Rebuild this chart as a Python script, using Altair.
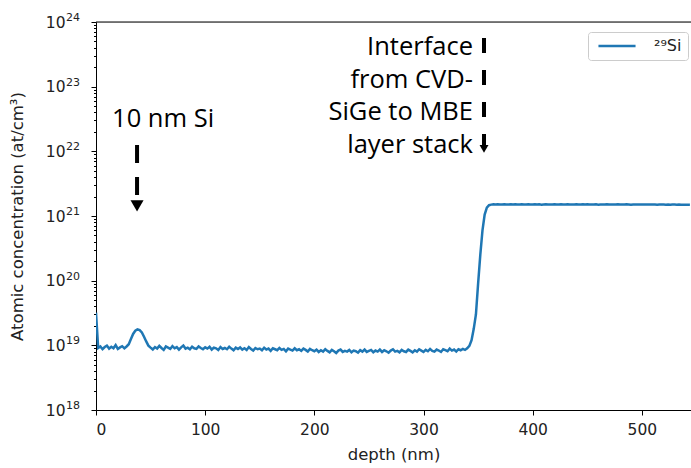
import altair as alt
import pandas as pd

# 29Si concentration in units of 1e18 at/cm^3, sampled every 2 nm from 0 nm
conc_1e18 = [
    32.0, 9.1, 9.6, 8.7, 9.4, 9.9, 8.9, 9.5, 9.0, 10.1, 8.8, 9.3, 9.7, 9.0, 9.6,
    10.4, 12.5, 15.0, 16.8, 17.6, 17.2, 15.8, 13.6, 11.5, 9.9, 9.2,
    8.6, 9.4, 8.9, 9.8, 9.1, 8.5, 9.6, 9.2, 8.8, 9.7, 9.0, 9.4, 8.6, 9.3, 9.9, 8.9,
    9.2, 8.7, 9.5, 9.0, 8.8, 9.6, 9.1, 8.7,
    9.3, 8.9, 9.5, 8.6, 9.2, 9.0, 8.5, 9.4, 8.8, 9.1, 8.7, 9.5, 8.9, 8.4, 9.2, 8.8,
    9.3, 8.6, 9.0, 8.5, 9.4, 8.8, 8.3, 9.1, 8.7,
    8.9, 8.4, 9.2, 8.6, 8.9, 8.2, 9.0, 8.7, 8.4, 9.1, 8.5, 8.8, 8.1, 8.9, 8.6, 8.3,
    9.0, 8.4, 8.7, 8.2, 8.9, 8.5, 8.0, 8.8, 8.4,
    8.1, 8.6, 7.9, 8.4, 8.0, 8.7, 8.2, 7.8, 8.5, 8.1, 7.6, 8.3, 8.6, 7.9, 8.2, 8.0,
    8.5, 7.8, 8.3, 8.1, 7.7, 8.4, 8.0, 8.6, 7.9,
    8.2, 8.5, 7.8, 8.3, 8.0, 8.6, 7.9, 8.4, 8.1, 7.7, 8.3, 8.7, 8.0, 8.2, 7.8, 8.5,
    8.1, 7.9, 8.6, 8.2, 7.8, 8.4, 8.0, 8.7, 8.3,
    7.9, 8.5, 8.1, 8.8, 8.2, 8.0, 8.6, 8.3, 7.9, 8.7, 8.4, 8.1, 8.9, 8.3, 8.6, 8.0,
    8.7, 8.4, 8.8, 8.5, 9.0,
    9.8, 12.0, 18.0, 30.0, 90.0, 250.0, 600.0, 1050.0, 1350.0, 1470.0, 1500.0,
    1515.0, 1508.0, 1522.0,
    1512, 1505, 1518, 1509, 1500, 1514, 1507, 1520, 1503, 1511, 1516,
    1508, 1501, 1515, 1510, 1504, 1519, 1506, 1513, 1499, 1512, 1517,
    1505, 1510, 1502, 1516, 1508, 1500, 1514, 1509, 1503, 1518, 1507,
    1511, 1504, 1515, 1501, 1509, 1513, 1506, 1517, 1502, 1510, 1505,
    1514, 1499, 1508, 1512, 1503, 1516, 1507, 1500, 1511, 1506, 1515,
    1502, 1510, 1504, 1513, 1508, 1498, 1512, 1505, 1509, 1501, 1507,
    1511, 1503, 1506, 1500, 1509, 1504, 1497, 1508, 1502, 1506, 1499,
    1503, 1496, 1505, 1500, 1494, 1502, 1498, 1491, 1499, 1495, 1492,
]
depth_nm = [2 * i for i in range(len(conc_1e18))]
series_name = "²⁹Si"

x_ticks = [0, 100, 200, 300, 400, 500]
y_decades = [1e18, 1e19, 1e20, 1e21, 1e22, 1e23, 1e24]
y_exponents = ["18", "19", "20", "21", "22", "23", "24"]
y_minor = [m * 10.0 ** e for e in range(18, 24) for m in range(1, 10)] + [1e24]

# annotations (data coordinates)
label_10nm = ["10 nm Si"]
label_10nm_depth = [14.7]
label_10nm_conc = [2.38e22]

iface_lines = ["Interface", "from CVD-", "SiGe to MBE", "layer stack"]
iface_depth = [345.3, 345.3, 345.3, 345.3]
iface_conc = [3.09e23, 9.53e22, 3.06e22, 9.42e21]

arrow_depth = [37.6, 355.4]
arrow_top = [1.25e22, 5.66e23]
arrow_bottom = [1.58e21, 1.14e22]
head_conc = [1.43e21, 1.09e22]

df = pd.DataFrame({
    "depth": depth_nm,
    "conc": [v * 1e18 for v in conc_1e18],
    "series": series_name,
})

xscale = alt.Scale(domain=[0, 545], nice=False, zero=False)
yscale = alt.Scale(type="log", domain=[1e18, 1e24], nice=False)

FONT = "DejaVu Sans"
TXT = "#222222"
is_decade = "abs(log(datum.value)/LN10 - round(log(datum.value)/LN10)) < 0.001"

x_axis = alt.Axis(values=x_ticks, title="depth (nm)", grid=False,
                  tickSize=5, labelPadding=7, titlePadding=9,
                  labelFontSize=15.5, titleFontSize=16.5,
                  domainColor="black", tickColor="black",
                  labelColor=TXT, titleColor=TXT,
                  labelFont=FONT, titleFont=FONT, titleFontWeight="normal")
y_axis = alt.Axis(values=y_minor, labelExpr=f"({is_decade}) ? '10' : ''", grid=False,
                  title="Atomic concentration (at/cm³)",
                  tickSize={"condition": {"test": is_decade, "value": 5}, "value": 2.5},
                  labelOverlap=False, labelPadding=26, titlePadding=20,
                  labelFontSize=15.5, titleFontSize=16.5,
                  domainColor="black", tickColor="black",
                  labelColor=TXT, titleColor=TXT,
                  labelFont=FONT, titleFont=FONT, titleFontWeight="normal")

X = alt.X("depth:Q", scale=xscale, axis=x_axis)


def Y(field):
    return alt.Y(field, scale=yscale, axis=y_axis)


line = alt.Chart(df).mark_line(strokeWidth=2.5, clip=True).encode(
    x=X,
    y=Y("conc:Q"),
    color=alt.Color("series:N",
                    scale=alt.Scale(domain=[series_name], range=["#1f77b4"]),
                    legend=alt.Legend(title=None, orient="none", legendX=492, legendY=10,
                                      symbolType="M-4,0L4,0", symbolSize=86,
                                      symbolOffset=15, symbolStrokeWidth=2.5,
                                      labelFontSize=16, labelFont=FONT, labelColor=TXT,
                                      labelOffset=29, padding=6,
                                      strokeColor="#cccccc", fillColor="white",
                                      cornerRadius=3)),
)

# exponent part of the y tick labels (superscripts)
exp_df = pd.DataFrame({"conc": y_decades, "exp": y_exponents})
exps = alt.Chart(exp_df).mark_text(
    align="left", baseline="middle", font=FONT, fontSize=11, color=TXT, dx=-30, dy=-4
).encode(x=alt.value(0), y=Y("conc:Q"), text="exp:N")

# top frame line
top_df = pd.DataFrame({"conc": [1e24]})
top_rule = alt.Chart(top_df).mark_rule(color="black", strokeWidth=1).encode(
    y=Y("conc:Q"), x=alt.value(0), x2=alt.value(595),
)

t1 = alt.Chart(pd.DataFrame({"depth": label_10nm_depth, "conc": label_10nm_conc,
                             "txt": label_10nm})).mark_text(
    align="left", baseline="alphabetic", font="Open Sans", fontSize=25.5, color="black"
).encode(x=X, y=Y("conc:Q"), text="txt:N")

t2 = alt.Chart(pd.DataFrame({"depth": iface_depth, "conc": iface_conc,
                             "txt": iface_lines})).mark_text(
    align="right", baseline="alphabetic", font="Open Sans", fontSize=25.5, color="black"
).encode(x=X, y=Y("conc:Q"), text="txt:N")

arrow_df = pd.DataFrame({"depth": arrow_depth, "conc": arrow_top, "conc2": arrow_bottom,
                         "head": head_conc, "k": ["a", "b"]})
shaft1 = alt.Chart(arrow_df[arrow_df.k == "a"]).mark_rule(
    color="black", strokeWidth=4, strokeDash=[18, 14]
).encode(x=X, y=Y("conc:Q"), y2="conc2:Q")
shaft2 = alt.Chart(arrow_df[arrow_df.k == "b"]).mark_rule(
    color="black", strokeWidth=4, strokeDash=[15, 17]
).encode(x=X, y=Y("conc:Q"), y2="conc2:Q")
head1 = alt.Chart(arrow_df[arrow_df.k == "a"]).mark_point(
    shape="triangle-down", filled=True, size=170, color="black", opacity=1
).encode(x=X, y=Y("head:Q"))
head2 = alt.Chart(arrow_df[arrow_df.k == "b"]).mark_point(
    shape="triangle-down", filled=True, size=80, color="black", opacity=1
).encode(x=X, y=Y("head:Q"))

chart = alt.layer(line, exps, top_rule, t1, t2, shaft1, shaft2, head1, head2).properties(
    width=595, height=388,
    autosize=alt.AutoSizeParams(type="none"),
    padding={"left": 96, "top": 22, "right": 0, "bottom": 58},
).configure_view(stroke=None).configure(background="white")

chart.save("out.html", embed_options={"renderer": "svg", "actions": False})
